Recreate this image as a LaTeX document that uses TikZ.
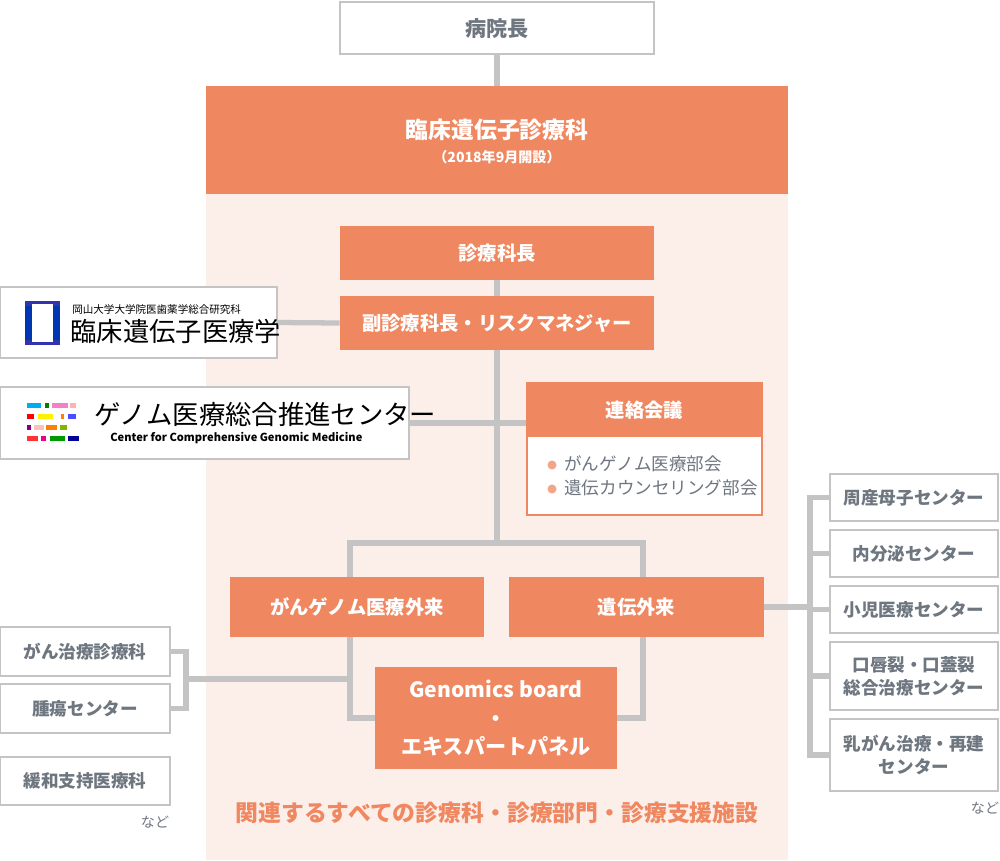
\documentclass[tikz,border=0pt]{standalone}
\usepackage{fontspec}
\setmainfont{Noto Sans CJK JP}
\newfontfamily\jpb{Noto Sans CJK JP}[BoldFont={* Bold}]
\begin{document}
\definecolor{org}{HTML}{EF8760}
\definecolor{pinkbg}{HTML}{FCEEE9}
\definecolor{gtxt}{HTML}{6E7680}
\definecolor{gln}{HTML}{C4C4C4}
\begin{tikzpicture}[x=0.02cm,y=-0.02cm,
 wbox/.style={draw=gln,line width=1pt,fill=white,text=gtxt,font=\bfseries\fontsize{10}{13}\selectfont,align=center,inner sep=0pt},
 obox/.style={fill=org,text=white,font=\bfseries\fontsize{11}{15}\selectfont,align=center,inner sep=0pt},
 ln/.style={draw=gln,line width=3pt}]
\useasboundingbox (0,0) rectangle (1000,860);
\fill[pinkbg] (206,194) rectangle (788,860);
% top
\node[wbox,font=\bfseries\fontsize{12}{15}\selectfont,minimum width=314\pgflinewidth*0+6.28cm,minimum height=1.04cm] (dir) at (497,28) {病院長};
\node[obox,minimum width=11.64cm,minimum height=2.16cm] (head) at (497,140) {};
\node[text=white,font=\bfseries\fontsize{13}{15}\selectfont] (ht) at (497,130) {臨床遺伝子診療科};
\node[text=white,font=\bfseries\fontsize{8}{10}\selectfont] (hs) at (497,157) {（2018年9月開設）};
\node[obox,minimum width=6.28cm,minimum height=1.08cm] (chief) at (497,253) {診療科長};
\node[obox,minimum width=6.28cm,minimum height=1.08cm] (vice) at (497,323) {副診療科長・リスクマネジャー};
\draw[ln] (dir.south) -- (head.north);
\draw[ln] (chief.south) -- (vice.north);
% logos
\node[wbox,minimum width=5.54cm,minimum height=1.42cm] (logo1) at (138.5,322.5) {};
\fill[blue!60!black!80] (25,301) rectangle (60,345);
\fill[white] (32,304) rectangle (53,342);
\fill[blue!70!cyan!70!black] (25,306) rectangle (32,340);
\fill[blue!70!cyan!70!black] (53,306) rectangle (60,340);
\node[anchor=west,text=black,font=\fontsize{6}{7}\selectfont,inner sep=0pt] (l1a) at (72,309) {岡山大学大学院医歯薬学総合研究科};
\node[anchor=west,text=black,font=\fontsize{15}{17}\selectfont,inner sep=0pt] (l1b) at (70,331) {臨床遺伝子医療学};
\node[wbox,minimum width=8.18cm,minimum height=1.44cm] (logo2) at (204.5,423) {};
\foreach \x/\y/\w/\c in {27/403/14/cyan,45/403/4/green!50!black,52/403/16/magenta!50,70/403/6/red!30,
 27/414/7/red,38/414/15/yellow,61/414/3/orange,68/414/8/blue!70,
 27/425/4/violet,34/425/10/pink,46/425/11/orange,60/425/7/lime!70!black,
 27/436/11/red!80,41/436/5/magenta,50/436/15/green!60!black,68/436/11/blue!60!black}
 \fill[\c] (\x,\y) rectangle ++(\w,5);
\node[anchor=west,text=black,font=\fontsize{15}{17}\selectfont,inner sep=0pt] (l2a) at (94,414) {ゲノム医療総合推進センター};
\node[anchor=west,text=black,font=\bfseries\itshape\fontsize{6.3}{7}\selectfont,inner sep=0pt] (l2b) at (110,438) {Center for Comprehensive Genomic Medicine};
% liaison
\node[draw=org,line width=1pt,fill=white,minimum width=4.7cm,minimum height=2.64cm,inner sep=0pt] (liai) at (644.5,449) {};
\node[obox,minimum width=4.7cm,minimum height=1.08cm] (liah) at (644.5,410) {連絡会議};
\fill[org!75] (552,465) circle (4.5);
\fill[org!75] (552,489) circle (4.5);
\node[anchor=west,text=gtxt,font=\fontsize{10}{12}\selectfont,inner sep=0pt] (b1) at (564,464) {がんゲノム医療部会};
\node[anchor=west,text=gtxt,font=\fontsize{10}{12}\selectfont,inner sep=0pt] (b2) at (564,488) {遺伝カウンセリング部会};
% clinics
\node[obox,minimum width=5.08cm,minimum height=1.2cm] (gan) at (357,607) {がんゲノム医療外来};
\node[obox,minimum width=5.1cm,minimum height=1.2cm] (iden) at (636.5,607) {遺伝外来};
\node[obox,minimum width=4.84cm,minimum height=2.04cm,font=\bfseries\fontsize{12}{16}\selectfont] (gb) at (496,718) {Genomics board\\・\\エキスパートパネル};
\coordinate (j) at (497,543);
\draw[ln] (vice.south) -- (j);
\draw[ln] (logo1.east) -- (vice.west);
\draw[ln] (logo2.east) -- (liai.west |- logo2.east);
\draw[ln] (350,577) |- (643,543) -- (643,577);
\draw[ln] (350,637) |- (gb.west);
\draw[ln] (643,637) |- (gb.east);
% left
\node[wbox,minimum width=3.4cm,minimum height=0.98cm] (L1) at (85,651.5) {がん治療診療科};
\node[wbox,minimum width=3.4cm,minimum height=0.98cm] (L2) at (85,708.5) {腫瘍センター};
\node[wbox,minimum width=3.4cm,minimum height=0.96cm] (L3) at (85,781) {緩和支持医療科};
\node[text=gtxt,font=\fontsize{8}{9}\selectfont] (n1) at (155,822) {など};
\draw[ln] (L1.east) -- (186,651.5) -- (186,708.5) -- (L2.east);
\draw[ln] (186,679) -- (350,679);
% right
\node[wbox,minimum width=3.36cm,minimum height=0.94cm] (R1) at (914,497.5) {周産母子センター};
\node[wbox,minimum width=3.36cm,minimum height=0.94cm] (R2) at (914,553.5) {内分泌センター};
\node[wbox,minimum width=3.36cm,minimum height=0.94cm] (R3) at (914,609.5) {小児医療センター};
\node[wbox,minimum width=3.36cm,minimum height=1.36cm] (R4) at (914,676) {口唇裂・口蓋裂\\総合治療センター};
\node[wbox,minimum width=3.36cm,minimum height=1.44cm] (R5) at (914,755) {乳がん治療・再建\\センター};
\node[text=gtxt,font=\fontsize{8}{9}\selectfont] (n2) at (985,808) {など};
\draw[ln] (R1.west) -- (810,497.5) -- (810,755) -- (R5.west);
\foreach \r in {R2,R3,R4} \draw[ln] (\r.west) -- (810,0 |- \r.west);
\draw[ln] (iden.east) -- (810,607);
\node[text=org,font=\bfseries\fontsize{13}{15}\selectfont] (foot) at (497,813) {関連するすべての診療科・診療部門・診療支援施設};
\end{tikzpicture}
\end{document}
